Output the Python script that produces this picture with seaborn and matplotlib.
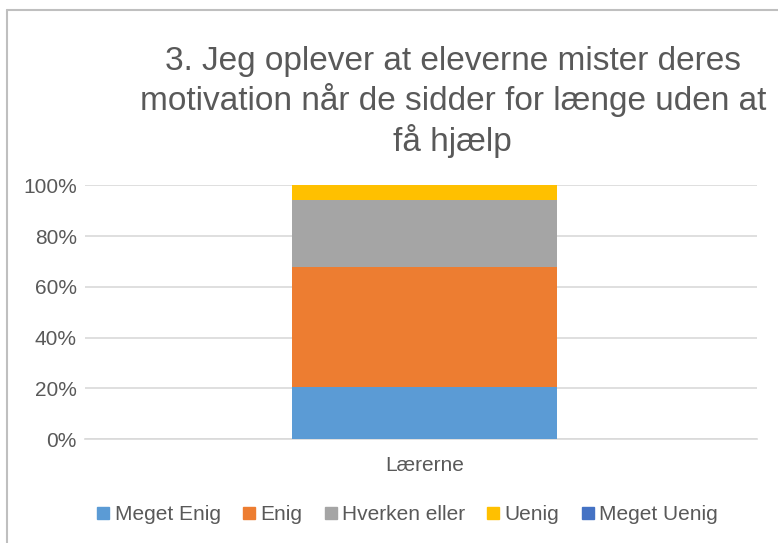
import numpy as np
import pandas as pd
import matplotlib
matplotlib.use("Agg")
import matplotlib.pyplot as plt
from matplotlib.lines import Line2D
import seaborn as sns

# data (shares of answers)
categories = ["Lærerne"]
answers = ["Meget Enig", "Enig", "Hverken eller", "Uenig", "Meget Uenig"]
shares = [0.206, 0.471, 0.265, 0.058, 0.0]
colors = ["#5B9BD5", "#ED7D31", "#A5A5A5", "#FFC000", "#4472C4"]
title = "3. Jeg oplever at eleverne mister deres\nmotivation når de sidder for længe uden at\nfå hjælp"
yticks = [0, 0.2, 0.4, 0.6, 0.8, 1.0]
ytick_labels = ["0%", "20%", "40%", "60%", "80%", "100%"]

sns.set_theme(style="white")
plt.rcParams["font.family"] = ["Liberation Sans", "DejaVu Sans"]
txt = "#595959"

fig = plt.figure(figsize=(7.78, 5.43), dpi=100)
ax = fig.add_axes([0.1093, 0.191, 0.8637, 0.4678])

# stacked bar: draw cumulative totals from the top down
cum = np.cumsum(shares)
df = pd.DataFrame({"kategori": categories * len(answers), "svar": answers, "cum": cum})
for i in range(len(answers) - 1, -1, -1):
    sns.barplot(data=df.iloc[[i]], x="kategori", y="cum", color=colors[i],
                width=0.394, saturation=1, linewidth=0, ax=ax, zorder=3)

ax.set_xlim(-0.5052, 0.4948)
ax.set_ylim(0, 1)
ax.set_yticks(yticks)
ax.set_yticklabels(ytick_labels)
ax.set_xlabel("")
ax.set_ylabel("")
ax.yaxis.grid(True, color="#D9D9D9", linewidth=1.2, zorder=0)
ax.tick_params(axis="both", length=0, labelsize=15, colors=txt)
ax.tick_params(axis="y", pad=6)
ax.tick_params(axis="x", pad=12)
for s in ["left", "right", "top"]:
    ax.spines[s].set_visible(False)
ax.spines["bottom"].set_color("#D9D9D9")
ax.spines["bottom"].set_linewidth(1.2)

fig.text(0.582, 0.813, title, ha="center", va="center", fontsize=24,
         color=txt, linespacing=1.24)

handles = [Line2D([0], [0], marker="s", linestyle="", markersize=8,
                  markerfacecolor=c, markeredgecolor=c) for c in colors]
fig.legend(handles, answers, loc="center", bbox_to_anchor=(0.521, 0.052), ncol=5,
           frameon=False, fontsize=15, labelcolor=txt, handletextpad=0.05,
           columnspacing=0.85, handlelength=1.0)

# chart-area frame (left and top edge visible in the crop)
fig.add_artist(Line2D([0.009, 0.009], [0, 0.982], color="#BFBFBF", linewidth=1.5,
                      transform=fig.transFigure))
fig.add_artist(Line2D([0.009, 1], [0.982, 0.982], color="#BFBFBF", linewidth=1.5,
                      transform=fig.transFigure))

fig.savefig("out.png", dpi=100)
